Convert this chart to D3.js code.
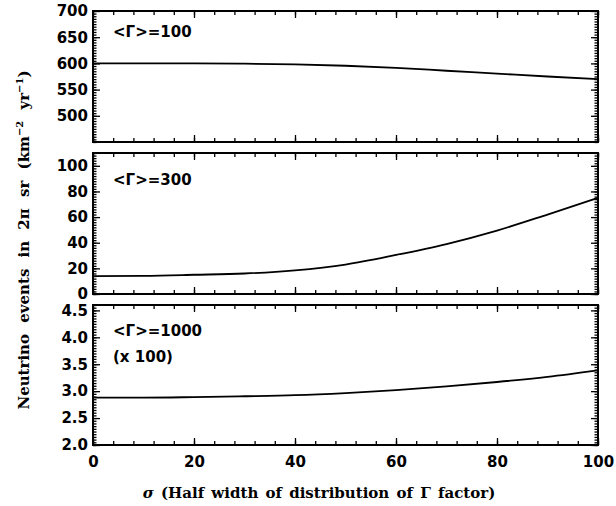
<!DOCTYPE html>
<html>
<head>
<meta charset="utf-8">
<script src="https://cdn.jsdelivr.net/npm/d3@7.9.0/dist/d3.min.js"></script>
<style>
  body { margin: 0; background: #fff; }
  svg { display: block; }
  .tick text { font-family: "DejaVu Sans", sans-serif; font-weight: bold; font-size: 15px; fill: #000; }
  .domain { display: none; }
  .tick line { stroke: #000; stroke-width: 1.3; }
</style>
</head>
<body>
<svg id="chart" width="616" height="506"></svg>
<script>
// sigma values (half width of Gamma distribution)
const sigma = [0, 10, 20, 30, 40, 50, 60, 70, 80, 90, 100];

// neutrino events for each mean Gamma
const events100 = [600, 600, 600, 599.5, 598, 595.5, 591.5, 586, 580.5, 575, 570];
const events300 = [14, 14.2, 15, 16, 18.5, 23, 30.5, 39, 49.5, 62, 75];
const events1000 = [2.88, 2.88, 2.89, 2.905, 2.925, 2.965, 3.02, 3.09, 3.17, 3.265, 3.385];

const xTicks = [0, 20, 40, 60, 80, 100];
const yTicks100 = [500, 550, 600, 650, 700];
const yTicks300 = [0, 20, 40, 60, 80, 100];
const yTicks1000 = [2.0, 2.5, 3.0, 3.5, 4.0, 4.5];

const svg = d3.select('#chart');
const left = 93, right = 598;

const x = d3.scaleLinear().domain([0, 100]).range([left, right]);

const panels = [
  { top: 11, bottom: 142, domain: [450, 700], ticks: yTicks100, minor: 5, fmt: d3.format('d'),
    values: events100, notes: ['<Γ>=100'], noteY: [26] },
  { top: 153, bottom: 294, domain: [0, 110], ticks: yTicks300, minor: 2, fmt: d3.format('d'),
    values: events300, notes: ['<Γ>=300'], noteY: [32] },
  { top: 305, bottom: 445, domain: [2.0, 4.6], ticks: yTicks1000, minor: 0.05, fmt: d3.format('.1f'),
    values: events1000, notes: ['<Γ>=1000', '(x 100)'], noteY: [31, 57] },
];

panels.forEach((p, i) => {
  const y = d3.scaleLinear().domain(p.domain).range([p.bottom, p.top]);
  const g = svg.append('g');
  const minorY = d3.range(p.domain[0], p.domain[1] + 1e-9, p.minor);
  const minorX = d3.range(0, 100.001, 4);

  // minor ticks
  g.append('g').attr('transform', `translate(${left},0)`)
    .call(d3.axisLeft(y).tickValues(minorY).tickSize(-3.5).tickFormat(''));
  g.append('g').attr('transform', `translate(${right},0)`)
    .call(d3.axisRight(y).tickValues(minorY).tickSize(-3.5).tickFormat(''));
  g.append('g').attr('transform', `translate(0,${p.bottom})`)
    .call(d3.axisBottom(x).tickValues(minorX).tickSize(-4).tickFormat(''));
  g.append('g').attr('transform', `translate(0,${p.top})`)
    .call(d3.axisTop(x).tickValues(minorX).tickSize(-4).tickFormat(''));

  // major ticks
  g.append('g').attr('transform', `translate(${left},0)`)
    .call(d3.axisLeft(y).tickValues(p.ticks).tickSize(-7).tickPadding(5).tickFormat(p.fmt));
  g.append('g').attr('transform', `translate(${right},0)`)
    .call(d3.axisRight(y).tickValues(p.ticks).tickSize(-7).tickFormat(''));
  g.append('g').attr('transform', `translate(0,${p.bottom})`)
    .call(d3.axisBottom(x).tickValues(xTicks).tickSize(-7)
      .tickPadding(11).tickFormat(i === 2 ? d3.format('d') : ''));
  g.append('g').attr('transform', `translate(0,${p.top})`)
    .call(d3.axisTop(x).tickValues(xTicks).tickSize(-7).tickFormat(''));

  // frame
  g.append('rect')
    .attr('x', left).attr('y', p.top)
    .attr('width', right - left).attr('height', p.bottom - p.top)
    .attr('fill', 'none').attr('stroke', '#000').attr('stroke-width', 2);

  // curve
  const line = d3.line()
    .x((d, j) => x(sigma[j]))
    .y(d => y(d))
    .curve(d3.curveMonotoneX);
  g.append('path')
    .datum(p.values)
    .attr('d', line)
    .attr('fill', 'none')
    .attr('stroke', '#000')
    .attr('stroke-width', 1.8);

  p.notes.forEach((t, k) => {
    g.append('text')
      .attr('x', 113)
      .attr('y', p.top + p.noteY[k])
      .attr('font-family', 'DejaVu Sans, sans-serif')
      .attr('font-weight', 'bold')
      .attr('font-size', 15)
      .text(t);
  });
});

// axis titles
svg.append('text')
  .attr('x', 319).attr('y', 498)
  .attr('text-anchor', 'middle')
  .attr('font-family', 'DejaVu Serif, serif')
  .attr('font-weight', 'bold')
  .attr('font-size', 15)
  .attr('word-spacing', 2)
  .html('<tspan font-style="italic">σ</tspan> (Half width of distribution of Γ factor)');

svg.append('text')
  .attr('transform', 'translate(29,240) rotate(-90)')
  .attr('text-anchor', 'middle')
  .attr('font-family', 'DejaVu Serif, serif')
  .attr('font-weight', 'bold')
  .attr('font-size', 15)
  .attr('word-spacing', 6)
  .html('Neutrino events in 2π sr (km<tspan dy="-6" font-size="10">−2</tspan><tspan dy="6"> yr</tspan><tspan dy="-6" font-size="10">−1</tspan><tspan dy="6">)</tspan>');
</script>
</body>
</html>
